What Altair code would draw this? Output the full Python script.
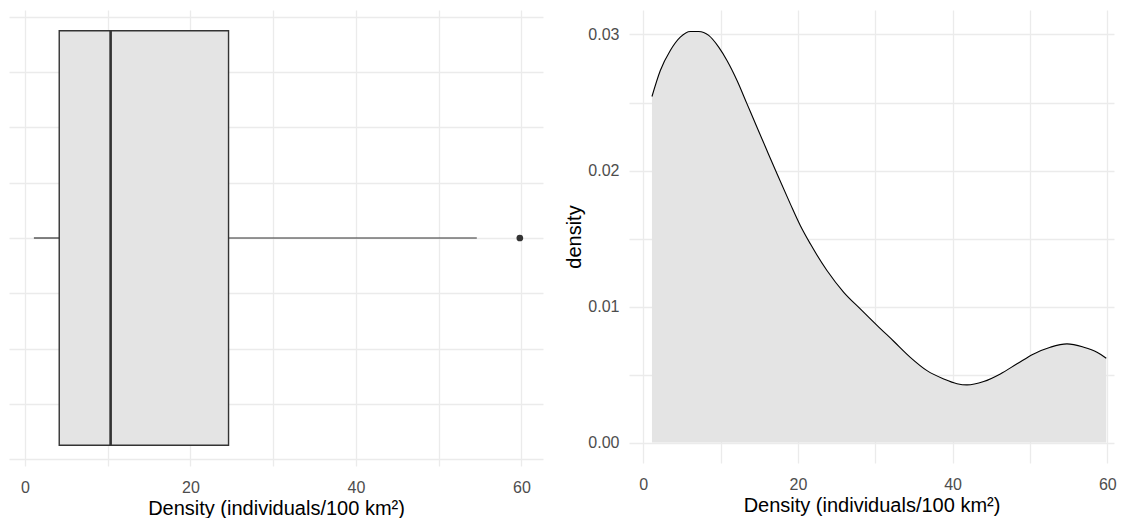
import altair as alt
import pandas as pd

# ---- data ----
# Box plot summary of density (individuals/100 km2)
box_q1 = [4.14]
box_median = [10.35]
box_q3 = [24.6]
whisker_low = [1.08]
whisker_high = [54.6]
outliers = [59.8]
box_halfwidth = [0.375]

# Kernel density estimate of the same variable
dens_x = [1.12, 2.20, 3.49, 4.78, 6.08, 7.16, 8.46, 9.75, 10.82, 12.12, 13.41,
          14.70, 15.99, 17.29, 19.01, 20.3, 21.6, 23.75, 25.92, 28.06, 30.22,
          32.38, 34.53, 36.69, 38.85, 40.57, 41.86, 44.02, 46.17, 48.33,
          50.48, 52.63, 54.79, 56.95, 58.67, 59.87]
dens_y = [0.02544, 0.02735, 0.02882, 0.0298, 0.03022, 0.03022, 0.02993,
          0.02907, 0.02809, 0.02662, 0.0249, 0.02318, 0.02147, 0.01976,
          0.01755, 0.01596, 0.01461, 0.01265, 0.01105, 0.00983, 0.00862,
          0.00745, 0.00627, 0.00529, 0.00468, 0.00433, 0.00424, 0.00449,
          0.00505, 0.00579, 0.00652, 0.00701, 0.00726, 0.00701, 0.00664,
          0.0062]

# axes / ticks
x_grid = [0, 10, 20, 30, 40, 50, 60]
x_labelled = [0, 20, 40, 60]
box_y_grid = [-0.4, -0.3, -0.2, -0.1, 0.0, 0.1, 0.2, 0.3, 0.4]
dens_y_grid = [0.0, 0.005, 0.01, 0.015, 0.02, 0.025, 0.03]
dens_y_labelled_milli = [0, 10, 20, 30]
x_title = "Density (individuals/100 km²)"
y_title_right = "density"

# ---- tables ----
box_df = pd.DataFrame({
    "q1": box_q1, "q3": box_q3, "med": box_median,
    "lo": [-h for h in box_halfwidth], "hi": box_halfwidth,
})
whisk_df = pd.DataFrame({
    "x": [whisker_low[0], box_q3[0]],
    "x2": [box_q1[0], whisker_high[0]],
    "y": [0.0, 0.0],
})
out_df = pd.DataFrame({"x": outliers, "y": [0.0] * len(outliers)})
dens_df = pd.DataFrame({"x": dens_x, "y": dens_y, "base": [0.0] * len(dens_x)})

FONT = "Liberation Sans"
DARK = "#333333"
FILL = "#E4E4E4"

x_label_expr = "indexof(%s, datum.value) >= 0 ? datum.label : ''" % str(x_labelled)

x_axis = alt.Axis(values=x_grid, labelExpr=x_label_expr, title=x_title,
                  labelPadding=13, titlePadding=3, labelFlush=False,
                  labelOverlap=False)

# ---- left: box plot ----
xs_left = alt.Scale(domain=[-1.93, 62.6], nice=False, zero=False)
ys_left = alt.Scale(domain=[-0.4125, 0.4125], nice=False, zero=False)
y_axis_left = alt.Axis(values=box_y_grid, labels=False, title=None, grid=True)

rect = alt.Chart(box_df).mark_rect(fill=FILL, stroke=DARK, strokeWidth=1.4).encode(
    x=alt.X("q1:Q", scale=xs_left, axis=x_axis),
    x2="q3:Q",
    y=alt.Y("lo:Q", scale=ys_left, axis=y_axis_left),
    y2="hi:Q",
)
whisk = alt.Chart(whisk_df).mark_rule(color=DARK, strokeWidth=1.2).encode(
    x=alt.X("x:Q", scale=xs_left, axis=x_axis),
    x2="x2:Q",
    y=alt.Y("y:Q", scale=ys_left, axis=y_axis_left),
)
med = alt.Chart(box_df).mark_rule(color=DARK, strokeWidth=2.6).encode(
    x=alt.X("med:Q", scale=xs_left, axis=x_axis),
    y=alt.Y("lo:Q", scale=ys_left, axis=y_axis_left),
    y2="hi:Q",
)
outl = alt.Chart(out_df).mark_circle(size=45, color=DARK, opacity=1).encode(
    x=alt.X("x:Q", scale=xs_left, axis=x_axis),
    y=alt.Y("y:Q", scale=ys_left, axis=y_axis_left),
)
left = alt.layer(whisk, rect, med, outl).properties(width=534, height=456)

# ---- right: density curve ----
xs_right = alt.Scale(domain=[-1.85, 60.87], nice=False, zero=False)
ys_right = alt.Scale(domain=[-0.0015, 0.0318], nice=False, zero=False)
y_label_expr = ("indexof(%s, round(datum.value * 1000)) >= 0 ? "
                "format(datum.value, '.2f') : ''") % str(dens_y_labelled_milli)
y_axis_right = alt.Axis(values=dens_y_grid, labelExpr=y_label_expr,
                        title=y_title_right, labelPadding=10, titlePadding=3,
                        labelOverlap=False)

area = alt.Chart(dens_df).mark_area(fill=FILL, interpolate="monotone").encode(
    x=alt.X("x:Q", scale=xs_right, axis=x_axis),
    y=alt.Y("y:Q", scale=ys_right, axis=y_axis_right),
    y2="base:Q",
)
line = alt.Chart(dens_df).mark_line(color="black", strokeWidth=1.1,
                                    interpolate="monotone").encode(
    x=alt.X("x:Q", scale=xs_right, axis=x_axis),
    y=alt.Y("y:Q", scale=ys_right, axis=y_axis_right),
)
right = alt.layer(area, line).properties(width=485, height=453)

chart = (
    alt.hconcat(left, right, spacing=21)
    .properties(padding={"left": 1, "top": 2, "right": 0, "bottom": 0})
    .configure(font=FONT)
    .configure_view(stroke=None)
    .configure_axis(
        domain=False, ticks=False, tickSize=0,
        grid=True, gridColor="#EBEBEB", gridWidth=1.3,
        labelFont=FONT, labelFontSize=16, labelColor="#4D4D4D",
        titleFont=FONT, titleFontSize=20, titleColor="#000000",
        titleFontWeight="normal",
    )
)

chart.save("out.html", embed_options={"renderer": "svg", "actions": False})
